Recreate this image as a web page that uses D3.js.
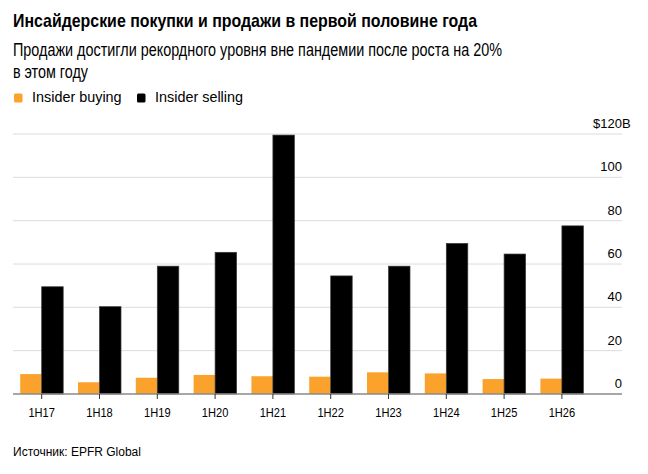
<!DOCTYPE html>
<html>
<head>
<meta charset="utf-8">
<script src="https://cdn.jsdelivr.net/npm/d3@7"></script>
<style>
  html, body { margin: 0; padding: 0; background: #fff; }
  svg { display: block; font-family: "Liberation Sans", Arial, sans-serif; }
</style>
</head>
<body>
<svg id="chart" width="648" height="474"></svg>
<script>
const categories = ["1H17","1H18","1H19","1H20","1H21","1H22","1H23","1H24","1H25","1H26"];
const insiderBuying = [9.2, 5.4, 7.5, 8.8, 8.2, 8.0, 10.0, 9.5, 6.9, 7.1];
const insiderSelling = [49.5, 40.3, 59.0, 65.4, 119.5, 54.5, 59.0, 69.5, 64.6, 77.6];
const yTicks = [0, 20, 40, 60, 80, 100, 120];
const seriesNames = ["Insider buying", "Insider selling"];
const seriesColors = ["#fba22d", "#000000"];

const svg = d3.select("#chart");
const left = 13, right = 622;

const x0 = d3.scaleBand().domain(categories).range([12.8, 590.8]).paddingInner(0.256).paddingOuter(0.128);
const x1 = d3.scaleBand().domain(seriesNames).range([0, x0.bandwidth()]).padding(0);
const y = d3.scaleLinear().domain([0, 120]).range([394, 134]);

// Titles (condensed to match the reference's narrower typeface)
svg.append("text").attr("x", 13).attr("y", 27).attr("font-size", 19).attr("font-weight", "bold")
  .attr("textLength", 464).attr("lengthAdjust", "spacingAndGlyphs")
  .attr("fill", "#000").text("Инсайдерские покупки и продажи в первой половине года");
svg.append("text").attr("x", 13).attr("y", 56).attr("font-size", 17.5).attr("fill", "#000")
  .attr("textLength", 489).attr("lengthAdjust", "spacingAndGlyphs")
  .text("Продажи достигли рекордного уровня вне пандемии после роста на 20%");
svg.append("text").attr("x", 13).attr("y", 77.5).attr("font-size", 17.5).attr("fill", "#000")
  .attr("textLength", 75).attr("lengthAdjust", "spacingAndGlyphs")
  .text("в этом году");

// Legend
const legend = svg.append("g");
const legX = [14, 137];
seriesNames.forEach((n, i) => {
  legend.append("rect").attr("x", legX[i]).attr("y", 93.5).attr("width", 8.5).attr("height", 9)
    .attr("rx", 1.5).attr("fill", seriesColors[i]);
  legend.append("text").attr("x", legX[i] + 18).attr("y", 102).attr("font-size", 14.4).attr("fill", "#000").text(n);
});

// Gridlines
svg.append("g").selectAll("line").data(yTicks.filter(d => d > 0)).join("line")
  .attr("x1", left).attr("x2", right).attr("y1", d => y(d)).attr("y2", d => y(d))
  .attr("stroke", "#dcdcdc").attr("stroke-width", 1);

// Y labels
const yl = svg.append("g").attr("font-size", 13).attr("fill", "#000");
yTicks.forEach(v => {
  if (v === 120) {
    yl.append("text").attr("x", right).attr("y", y(v) - 6).attr("text-anchor", "end").text("$" + v);
    yl.append("text").attr("x", right).attr("y", y(v) - 6).attr("text-anchor", "start").text("B");
  } else {
    yl.append("text").attr("x", right).attr("y", y(v) - 6).attr("text-anchor", "end").text(v);
  }
});

// Bars
const groups = svg.append("g").selectAll("g").data(categories).join("g")
  .attr("transform", d => `translate(${x0(d)},0)`);
groups.append("rect")
  .attr("x", x1("Insider buying")).attr("width", x1.bandwidth())
  .attr("y", (d, i) => y(insiderBuying[i])).attr("height", (d, i) => y(0) - y(insiderBuying[i]))
  .attr("fill", seriesColors[0]);
groups.append("rect")
  .attr("x", x1("Insider selling")).attr("width", x1.bandwidth())
  .attr("y", (d, i) => y(insiderSelling[i])).attr("height", (d, i) => y(0) - y(insiderSelling[i]))
  .attr("fill", seriesColors[1]).attr("stroke", "#3a3a3a").attr("stroke-width", 0.7);

// Baseline and x axis
svg.append("line").attr("x1", left).attr("x2", right).attr("y1", y(0)).attr("y2", y(0))
  .attr("stroke", "#8a8a8a").attr("stroke-width", 1.5);
const xAxis = d3.axisBottom(x0).tickSize(5).tickSizeOuter(0).tickPadding(9);
const gx = svg.append("g").attr("transform", `translate(0,${y(0)})`).call(xAxis);
gx.select(".domain").remove();
gx.selectAll(".tick line").attr("stroke", "#333").attr("stroke-width", 1);
gx.selectAll(".tick text").attr("font-size", 13).attr("fill", "#000")
  .attr("font-family", "Liberation Sans, Arial, sans-serif")
  .attr("textLength", 26.5).attr("lengthAdjust", "spacingAndGlyphs");

// Source
svg.append("text").attr("x", 13).attr("y", 456).attr("font-size", 12).attr("fill", "#000")
  .text("Источник: EPFR Global");
</script>
</body>
</html>
